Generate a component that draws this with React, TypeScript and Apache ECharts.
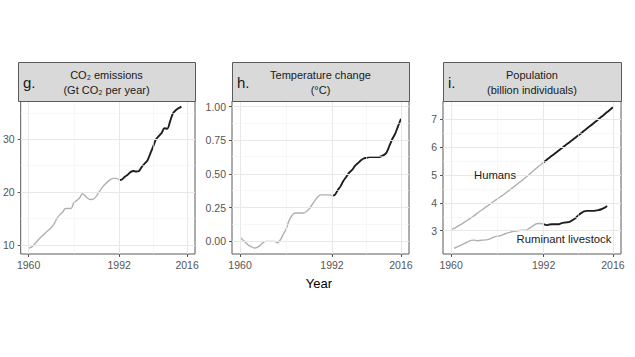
import React, { useEffect, useRef } from "react";
import * as echarts from "echarts";

// ---------- data ----------
const X_TICKS = [1960, 1992, 2016];
const X_MINOR = [1976, 2004];
const SPLIT_YEAR = 1992;

const co2Years: number[] = [
  1960, 1961, 1962, 1963, 1964, 1965, 1966, 1967, 1968, 1969,
  1970, 1971, 1972, 1973, 1974, 1975, 1976, 1977, 1978, 1979,
  1980, 1981, 1982, 1983, 1984, 1985, 1986, 1987, 1988, 1989,
  1990, 1991, 1992, 1993, 1994, 1995, 1996, 1997, 1998, 1999,
  2000, 2001, 2002, 2003, 2004, 2005, 2006, 2007, 2008, 2009,
  2010, 2011, 2012, 2013, 2014,
];
const co2Values: number[] = [
  9.4, 9.6, 10.1, 10.7, 11.3, 11.8, 12.3, 12.8, 13.3, 14.0,
  15.0, 15.7, 16.2, 16.9, 16.9, 16.9, 18.0, 18.4, 18.9, 19.7,
  19.3, 18.8, 18.6, 18.7, 19.3, 20.1, 20.9, 21.5, 22.0, 22.4,
  22.6, 22.6, 22.3, 22.4, 22.9, 23.3, 23.8, 24.0, 23.9, 24.0,
  24.8, 25.4, 26.0, 27.3, 28.6, 30.0, 30.6, 31.2, 32.1, 32.0,
  33.4, 34.9, 35.5, 35.9, 36.2,
];

const tempYears: number[] = [
  1960, 1961, 1962, 1963, 1964, 1965, 1966, 1967, 1968, 1969,
  1970, 1971, 1972, 1973, 1974, 1975, 1976, 1977, 1978, 1979,
  1980, 1981, 1982, 1983, 1984, 1985, 1986, 1987, 1988, 1989,
  1990, 1991, 1992, 1993, 1994, 1995, 1996, 1997, 1998, 1999,
  2000, 2001, 2002, 2003, 2004, 2005, 2006, 2007, 2008, 2009,
  2010, 2011, 2012, 2013, 2014, 2015, 2016,
];
const tempValues: number[] = [
  0.03, 0.01, -0.01, -0.03, -0.04, -0.05, -0.045, -0.03, -0.01, 0.0,
  0.0, 0.0, 0.0, -0.01, 0.01, 0.05, 0.09, 0.15, 0.19, 0.21,
  0.21, 0.21, 0.21, 0.22, 0.24, 0.27, 0.3, 0.33, 0.345, 0.345,
  0.345, 0.345, 0.34, 0.345, 0.38, 0.41, 0.45, 0.48, 0.51, 0.53,
  0.56, 0.58, 0.6, 0.615, 0.62, 0.625, 0.625, 0.625, 0.625, 0.63,
  0.64, 0.66, 0.71, 0.76, 0.8, 0.855, 0.91,
];

const humanYears: number[] = tempYears;
const humanValues: number[] = [
  3.03, 3.08, 3.14, 3.2, 3.26, 3.33, 3.4, 3.47, 3.54, 3.62,
  3.7, 3.77, 3.85, 3.92, 4.0, 4.07, 4.14, 4.21, 4.28, 4.36,
  4.44, 4.52, 4.6, 4.68, 4.76, 4.84, 4.93, 5.02, 5.11, 5.2,
  5.29, 5.37, 5.46, 5.54, 5.62, 5.7, 5.78, 5.86, 5.94, 6.02,
  6.1, 6.18, 6.26, 6.34, 6.42, 6.5, 6.59, 6.67, 6.75, 6.83,
  6.92, 7.0, 7.09, 7.17, 7.26, 7.34, 7.43,
];

const livestockYears: number[] = [
  1961, 1962, 1963, 1964, 1965, 1966, 1967, 1968, 1969,
  1970, 1971, 1972, 1973, 1974, 1975, 1976, 1977, 1978, 1979,
  1980, 1981, 1982, 1983, 1984, 1985, 1986, 1987, 1988, 1989,
  1990, 1991, 1992, 1993, 1994, 1995, 1996, 1997, 1998, 1999,
  2000, 2001, 2002, 2003, 2004, 2005, 2006, 2007, 2008, 2009,
  2010, 2011, 2012, 2013, 2014,
];
const livestockValues: number[] = [
  2.37, 2.41, 2.46, 2.51, 2.56, 2.61, 2.65, 2.66, 2.64,
  2.65, 2.66, 2.67, 2.69, 2.73, 2.78, 2.8, 2.82, 2.86, 2.9,
  2.93, 2.96, 2.98, 3.0, 3.01, 3.02, 3.02, 3.08, 3.15, 3.22,
  3.26, 3.26, 3.24, 3.2, 3.22, 3.23, 3.23, 3.23, 3.26, 3.29,
  3.3, 3.32, 3.38, 3.45, 3.55, 3.63, 3.69, 3.71, 3.71, 3.71,
  3.72, 3.74, 3.77, 3.82, 3.89,
];

const gTicks = [10, 20, 30];
const gMinor = [15, 25, 35];
const hTicks = [0, 0.25, 0.5, 0.75, 1.0];
const hMinor = [0.125, 0.375, 0.625, 0.875];
const iTicks = [3, 4, 5, 6, 7];
const iMinor = [3.5, 4.5, 5.5, 6.5, 7.5];

const panelLetters = ["g.", "h.", "i."];
const panelTitles = [
  "CO\u2082 emissions\n(Gt CO\u2082 per year)",
  "Temperature change\n(\u00b0C)",
  "Population\n(billion individuals)",
];
const xAxisTitle = "Year";
const humansLabel = "Humans";
const livestockLabel = "Ruminant livestock";

// ---------- layout ----------
const FONT = "Liberation Sans, Arial, sans-serif";
const GRIDS = [
  { left: 18, top: 101, width: 177, height: 153 },
  { left: 232, top: 101, width: 177, height: 153 },
  { left: 443, top: 101, width: 178, height: 153 },
];
const STRIP_TOP = 62;
const X_MIN = 1957.2;
const X_MAX = 2018.8;
const Y_RANGES = [
  { min: 8.3, max: 37.25 },
  { min: -0.094, max: 1.042 },
  { min: 2.163, max: 7.657 },
];
const GRAY = "#b0b0b0";
const DARK = "#1e1e1e";

function pairs(xs: number[], ys: number[], cond: (x: number) => boolean) {
  const out: number[][] = [];
  xs.forEach((x, i) => {
    if (cond(x)) out.push([x, ys[i]]);
  });
  return out;
}

function lineSeries(idx: number, data: number[][], color: string, width: number) {
  return {
    type: "line",
    xAxisIndex: idx,
    yAxisIndex: idx,
    data,
    symbol: "none",
    smooth: 0.3,
    silent: true,
    z: 3,
    lineStyle: { color, width },
  };
}

function gridSeries(idx: number, data: number[][], major: number[], minor: number[]) {
  const lines: any[] = [];
  const maj = { color: "#e8e8e8", width: 1, type: "solid" };
  const mnr = { color: "#f2f2f2", width: 0.6, type: "solid" };
  X_TICKS.forEach((v) => lines.push({ xAxis: v, lineStyle: maj }));
  X_MINOR.forEach((v) => lines.push({ xAxis: v, lineStyle: mnr }));
  major.forEach((v) => lines.push({ yAxis: v, lineStyle: maj }));
  minor.forEach((v) => lines.push({ yAxis: v, lineStyle: mnr }));
  return {
    type: "line",
    xAxisIndex: idx,
    yAxisIndex: idx,
    data,
    symbol: "none",
    silent: true,
    z: 1,
    lineStyle: { opacity: 0 },
    markLine: {
      silent: true,
      symbol: ["none", "none"],
      label: { show: false },
      lineStyle: { type: "solid" },
      animation: false,
      data: lines,
    },
  };
}

export default function App() {
  const ref = useRef<HTMLDivElement>(null);

  useEffect(() => {
    if (!ref.current) return;
    const chart = echarts.init(ref.current, undefined, { renderer: "svg" });

    const yTickSets = [gTicks, hTicks, iTicks];
    const yMinorSets = [gMinor, hMinor, iMinor];
    const yFormatters = [
      (v: number) => String(v),
      (v: number) => v.toFixed(2),
      (v: number) => String(v),
    ];

    const xAxes = GRIDS.map((_, i) => ({
      gridIndex: i,
      type: "value",
      position: "bottom",
      min: X_MIN,
      max: X_MAX,
      axisLine: { show: false, onZero: false },
      splitLine: { show: false },
      axisTick: { show: true, length: 3, customValues: X_TICKS, lineStyle: { color: "#555" } },
      axisLabel: {
        customValues: X_TICKS,
        color: "#555",
        fontSize: 10.5,
        fontFamily: FONT,
        margin: 5,
        formatter: (v: number) => String(Math.round(v)),
      },
    }));

    const yAxes = GRIDS.map((_, i) => ({
      gridIndex: i,
      type: "value",
      position: "left",
      min: Y_RANGES[i].min,
      max: Y_RANGES[i].max,
      axisLine: { show: false, onZero: false },
      splitLine: { show: false },
      axisTick: { show: true, length: 3, customValues: yTickSets[i], lineStyle: { color: "#555" } },
      axisLabel: {
        customValues: yTickSets[i],
        color: "#555",
        fontSize: 10.5,
        fontFamily: FONT,
        margin: 6,
        formatter: yFormatters[i],
      },
    }));

    const datasets = [
      [co2Years, co2Values],
      [tempYears, tempValues],
      [humanYears, humanValues],
    ];

    const series: any[] = [];
    datasets.forEach(([xs, ys], i) => {
      series.push(gridSeries(i, pairs(xs, ys, () => true), yTickSets[i], yMinorSets[i]));
      series.push(lineSeries(i, pairs(xs, ys, (x) => x <= SPLIT_YEAR), GRAY, 1.4));
      series.push(lineSeries(i, pairs(xs, ys, (x) => x >= SPLIT_YEAR), DARK, 1.9));
    });
    series.push(lineSeries(2, pairs(livestockYears, livestockValues, (x) => x <= SPLIT_YEAR), GRAY, 1.4));
    series.push(lineSeries(2, pairs(livestockYears, livestockValues, (x) => x >= SPLIT_YEAR), DARK, 1.9));

    const graphics: any[] = [];
    GRIDS.forEach((g, i) => {
      graphics.push({
        type: "rect",
        shape: { x: g.left + 0.5, y: STRIP_TOP + 0.5, width: g.width, height: g.top - STRIP_TOP },
        style: { fill: "#d9d9d9", stroke: "#5a5a5a", lineWidth: 1 },
        z: 10,
      });
      graphics.push({
        type: "text",
        x: g.left + g.width / 2,
        y: (STRIP_TOP + g.top) / 2 + 0.5,
        style: {
          text: panelTitles[i],
          align: "center",
          verticalAlign: "middle",
          fontSize: 11,
          lineHeight: 15,
          fontFamily: FONT,
          fill: "#1a1a1a",
        },
        z: 11,
      });
      graphics.push({
        type: "text",
        x: g.left + 5,
        y: (STRIP_TOP + g.top) / 2 + 1,
        style: {
          text: panelLetters[i],
          align: "left",
          verticalAlign: "middle",
          fontSize: 15,
          fontFamily: FONT,
          fill: "#1a1a1a",
        },
        z: 11,
      });
    });
    graphics.push({
      type: "text",
      x: 319,
      y: 283,
      style: {
        text: xAxisTitle,
        align: "center",
        verticalAlign: "middle",
        fontSize: 13,
        fontFamily: FONT,
        fill: "#000",
      },
    });
    graphics.push({
      type: "text",
      x: 495,
      y: 175,
      style: {
        text: humansLabel,
        align: "center",
        verticalAlign: "middle",
        fontSize: 11.3,
        fontFamily: FONT,
        fill: "#1a1a1a",
      },
      z: 12,
    });
    graphics.push({
      type: "text",
      x: 564,
      y: 239,
      style: {
        text: livestockLabel,
        align: "center",
        verticalAlign: "middle",
        fontSize: 11.3,
        fontFamily: FONT,
        fill: "#1a1a1a",
      },
      z: 12,
    });

    chart.setOption({
      animation: false,
      backgroundColor: "#ffffff",
      grid: GRIDS.map((g) => ({
        ...g,
        show: true,
        backgroundColor: "#ffffff",
        borderColor: "#5a5a5a",
        borderWidth: 1,
        containLabel: false,
      })),
      xAxis: xAxes,
      yAxis: yAxes,
      series,
      graphic: graphics,
    });

    return () => chart.dispose();
  }, []);

  return (
    <div
      ref={ref}
      style={{ position: "absolute", left: 0, top: 0, width: 635, height: 357 }}
    />
  );
}
